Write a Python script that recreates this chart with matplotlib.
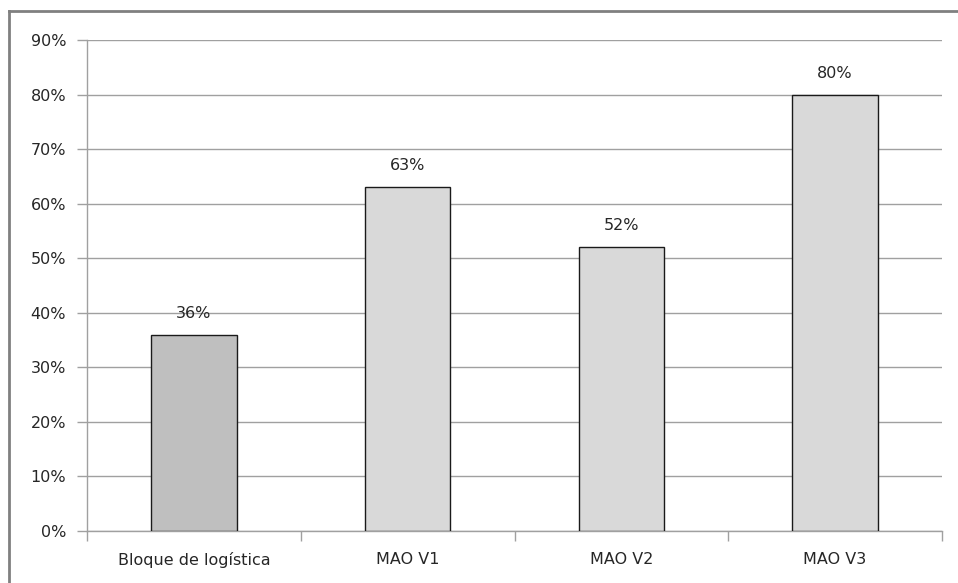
import matplotlib
matplotlib.use("Agg")
import matplotlib.pyplot as plt
from matplotlib.lines import Line2D
import numpy as np

# data
categories = ["Bloque de logística", "MAO V1", "MAO V2", "MAO V3"]
values = [36, 63, 52, 80]
bar_colors = ["#BFBFBF", "#D9D9D9", "#D9D9D9", "#D9D9D9"]
yticks = [0, 10, 20, 30, 40, 50, 60, 70, 80, 90]

plt.rcParams['font.family'] = ['DejaVu Sans']
txt_color = "#262626"
grid_color = "#A0A0A0"
fs = 11.5

fig = plt.figure(figsize=(9.58, 5.83), dpi=100)
ax = fig.add_axes([87/958, 1-531/583, (942-87)/958, (531-40)/583])

x = np.arange(len(categories))
bars = ax.bar(x, values, width=0.4, color=bar_colors, edgecolor="#1a1a1a", linewidth=1.0, zorder=3)

for b, v in zip(bars, values):
    ax.annotate(f"{v}%", (b.get_x() + b.get_width()/2, v), xytext=(0, 10),
                textcoords="offset points", ha="center", va="bottom",
                fontsize=fs, color=txt_color)

ax.set_xlim(-0.5, len(categories) - 0.5)
ax.set_ylim(0, 90)
ax.set_yticks(yticks)
ax.set_yticklabels([f"{t}%" for t in yticks], fontsize=fs, color=txt_color)
ax.yaxis.grid(True, color=grid_color, linewidth=1.0, zorder=0)
ax.set_axisbelow(True)

# category labels centered, ticks at boundaries
ax.set_xticks(x)
ax.set_xticklabels(categories, fontsize=fs, color=txt_color)
ax.tick_params(axis="x", length=0, pad=15)
ax.set_xticks(np.arange(len(categories) + 1) - 0.5, minor=True)
ax.tick_params(axis="x", which="minor", length=7, color=grid_color, width=1.0)
ax.tick_params(axis="y", length=7, color=grid_color, width=1.0, pad=8)

for s in ["top", "right"]:
    ax.spines[s].set_visible(False)
for s in ["left", "bottom"]:
    ax.spines[s].set_color(grid_color)
    ax.spines[s].set_linewidth(1.0)

# outer chart border
bx, by = 9/958, 1 - 11/583
fig.add_artist(Line2D([bx, 1.0], [by, by], transform=fig.transFigure, color="#808080", linewidth=2))
fig.add_artist(Line2D([bx, bx], [0, by], transform=fig.transFigure, color="#808080", linewidth=2))

fig.savefig("out.png", dpi=100)
